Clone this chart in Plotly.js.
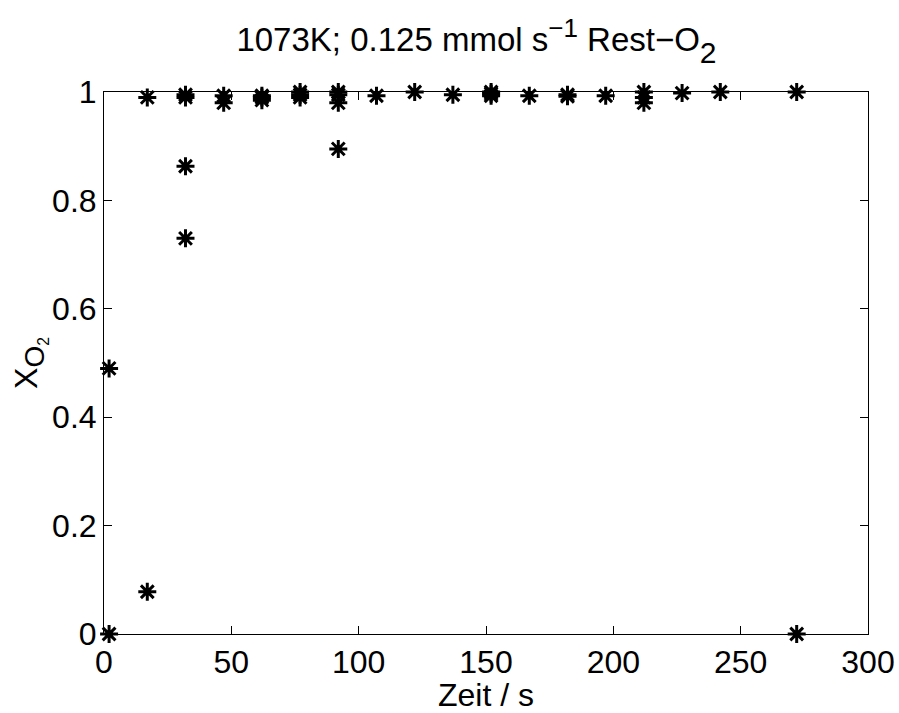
<!DOCTYPE html>
<html><head><meta charset="utf-8">
<script src="https://cdn.plot.ly/plotly-3.0.1.min.js"></script>
<style>body{margin:0;background:#fff}</style>
</head><body>
<div id="chart" style="width:899px;height:713px"></div>
<script>
const zeit = [2, 2, 17, 17, 32, 32, 32, 32, 47, 47, 62, 62, 62, 77, 77, 77, 92, 92, 92, 92, 107, 122, 137, 152, 152, 152, 167, 182, 182, 197, 212, 212, 212, 227, 242, 272, 272];
const xO2  = [0.49, 0.0, 0.99, 0.078, 0.99, 0.995, 0.863, 0.73, 0.993, 0.98, 0.99, 0.985, 0.993, 0.995, 0.99, 1.0, 1.0, 0.995, 0.98, 0.895, 0.993, 1.0, 0.995, 0.997, 0.993, 1.0, 0.993, 0.995, 0.992, 0.993, 1.0, 0.99, 0.98, 0.998, 1.0, 1.0, 0.0];
const xTicks = [0, 50, 100, 150, 200, 250, 300];
const yTicks = [0, 0.2, 0.4, 0.6, 0.8, 1];

const fam = '"Liberation Sans", Arial, sans-serif';
Plotly.newPlot('chart', [{
  x: zeit, y: xO2, type: 'scatter', mode: 'markers', cliponaxis: false,
  marker: {symbol: 'asterisk-open', size: 15, color: '#000', line: {color: '#000', width: 3}}
}], {
  width: 899, height: 713,
  margin: {l: 104, r: 31, t: 92, b: 79},
  paper_bgcolor: '#fff', plot_bgcolor: '#fff',
  showlegend: false,
  font: {family: fam, color: '#000', size: 32},
  title: {text: '1073K; 0.125 mmol s<sup><span style="font-size:26px">\u22121</span></sup> Rest\u2212O<sub><sub><span style="font-size:30px">2</span></sub></sub>', font: {family: fam, color: '#000', size: 33}, x: 0.53, xanchor: 'center', y: 0.945, yanchor: 'middle'},
  xaxis: {range: [0, 300], tickvals: xTicks, ticktext: xTicks.map(String), ticks: 'inside', ticklen: 8, tickcolor: '#000', showgrid: false, zeroline: false, showline: true, linecolor: '#000', linewidth: 1, mirror: 'ticks', tickfont: {family: fam, color: '#000', size: 32}, title: {text: 'Zeit / s', font: {family: fam, color: '#000', size: 32}, standoff: 0}},
  yaxis: {range: [0, 1], tickvals: yTicks, ticktext: yTicks.map(String), ticks: 'inside', ticklen: 8, tickcolor: '#000', showgrid: false, zeroline: false, showline: true, linecolor: '#000', linewidth: 1, mirror: 'ticks', tickfont: {family: fam, color: '#000', size: 32}, title: {text: 'X<sub><span style="font-size:28px">O</span><sub>2</sub></sub>', font: {family: fam, color: '#000', size: 32}, standoff: 4}}
}, {displayModeBar: false});
</script>
</body></html>
